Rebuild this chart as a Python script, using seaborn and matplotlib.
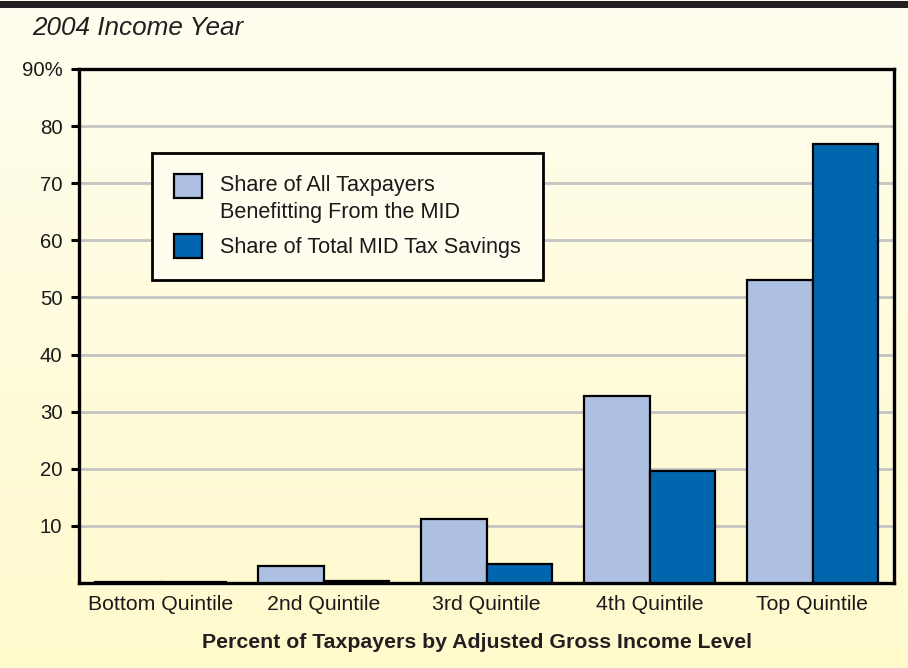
import numpy as np
import pandas as pd
import matplotlib
matplotlib.use("Agg")
import matplotlib.pyplot as plt
from matplotlib.patches import Rectangle, Patch
from matplotlib.legend_handler import HandlerPatch
import seaborn as sns

categories = ["Bottom Quintile", "2nd Quintile", "3rd Quintile", "4th Quintile", "Top Quintile"]
share_taxpayers = [0.2, 3.0, 11.2, 32.7, 53.0]
share_savings = [0.1, 0.35, 3.4, 19.6, 76.8]
series_names = ["Share of All Taxpayers\nBenefitting From the MID", "Share of Total MID Tax Savings"]
y_ticks = [10, 20, 30, 40, 50, 60, 70, 80, 90]
y_tick_labels = ["10", "20", "30", "40", "50", "60", "70", "80", "90%"]
colors = ["#adc0e1", "#0067ae"]

df = pd.DataFrame({
    "Quintile": categories * 2,
    "Series": [series_names[0]] * len(categories) + [series_names[1]] * len(categories),
    "Value": share_taxpayers + share_savings,
})

sns.set_theme(style="white")
plt.rcParams["font.family"] = ["Liberation Sans", "DejaVu Sans"]

W, H = 908, 668
fig = plt.figure(figsize=(W / 100, H / 100), dpi=100)

# gradient background
bg = fig.add_axes([0, 0, 1, 1], zorder=-10)
grad = np.linspace(0, 1, 256).reshape(-1, 1)
top_c = np.array([1.0, 0.996, 0.94])
bot_c = np.array([1.0, 0.98, 0.80])
img = top_c[None, None, :] * (1 - grad[:, :, None]) + bot_c[None, None, :] * grad[:, :, None]
bg.imshow(img, aspect="auto", extent=[0, 1, 0, 1], origin="upper")
bg.set_xlim(0, 1); bg.set_ylim(0, 1)
bg.axis("off")
fig.patches.append(Rectangle((0, 1 - 8 / H), 1, 7 / H, transform=fig.transFigure,
                             facecolor="#231f20", edgecolor="none", zorder=5))

ax = fig.add_axes([79 / W, 1 - 583 / H, (894 - 79) / W, (583 - 69) / H])
ax.patch.set_alpha(0)

sns.barplot(data=df, x="Quintile", y="Value", hue="Series", palette=colors, saturation=1,
            width=0.8, edgecolor="black", linewidth=1.6, ax=ax, legend=False, zorder=3)

ax.set_ylim(0, 90)
ax.set_xlim(-0.5, len(categories) - 0.5)
ax.set_yticks(y_ticks)
ax.set_yticklabels(y_tick_labels, fontsize=14.7, color="#1a1a1a")
ax.tick_params(axis="y", direction="out", length=6, width=2.2, color="black", pad=6, left=True)
ax.tick_params(axis="x", length=0, pad=9, labelsize=15.3, labelcolor="#1a1a1a")
ax.yaxis.grid(True, color="#c4c4c4", linewidth=2, zorder=0)
ax.set_axisbelow(True)
for s in ax.spines.values():
    s.set_visible(True)
    s.set_color("black")
    s.set_linewidth(2.4)
ax.set_xlabel("Percent of Taxpayers by Adjusted Gross Income Level", fontsize=15.3,
              fontweight="bold", color="#231f20", labelpad=14)
ax.xaxis.set_label_coords((476.5 - 79) / (894 - 79), -0.097)
ax.set_ylabel("")

fig.text(32 / W, 1 - 28 / H, "2004 Income Year", fontsize=18.8, style="italic",
         color="#231f20", ha="left", va="center")

leg_fs = 15.6


def shifted_patch(legend, orig_handle, xdescent, ydescent, width, height, fontsize):
    return Rectangle((-xdescent, -ydescent + 0.62 * fontsize), width, height)


handles = [Patch(facecolor=colors[i], edgecolor="black", linewidth=1.6) for i in range(2)]
leg = ax.legend(handles, series_names, loc="upper left",
                bbox_to_anchor=((152 - 79) / (894 - 79), (583 - 153) / (583 - 69)),
                fontsize=leg_fs, frameon=True, fancybox=False, edgecolor="black",
                facecolor="#fffdee", framealpha=1, handlelength=1.3, handleheight=1.3,
                handletextpad=0.85, borderpad=1.0, labelspacing=0.5, borderaxespad=0,
                handler_map={handles[0]: HandlerPatch(patch_func=shifted_patch)})
leg.get_frame().set_linewidth(2)
leg.set_zorder(10)
for t in leg.get_texts():
    t.set_color("#1a1a1a")
    t.set_linespacing(1.4)

fig.savefig("out.png", dpi=100)
